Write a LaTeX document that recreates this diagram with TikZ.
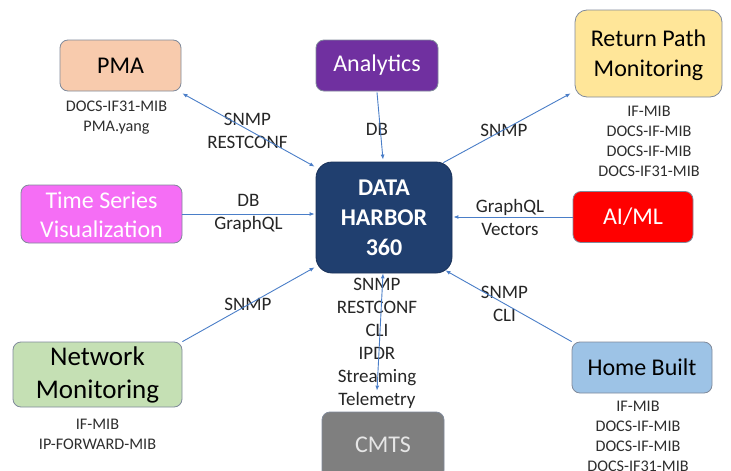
\documentclass[tikz,border=0pt]{standalone}
\usepackage{fontspec}
\setmainfont{Carlito}
\usetikzlibrary{arrows.meta,calc}
\definecolor{pmaC}{HTML}{F8CBAD}
\definecolor{anaC}{HTML}{7030A0}
\definecolor{rpC}{HTML}{FFE699}
\definecolor{tsvC}{RGB}{245,110,245}
\definecolor{aiC}{HTML}{FF0000}
\definecolor{dhC}{HTML}{203F6F}
\definecolor{nmC}{HTML}{C5E0B4}
\definecolor{hbC}{HTML}{9DC3E6}
\definecolor{cmC}{HTML}{7F7F7F}
\definecolor{cmText}{HTML}{E6E6E6}
\definecolor{boxline}{RGB}{128,138,155}
\definecolor{arrowC}{RGB}{74,126,200}
\definecolor{lblC}{HTML}{262626}
\definecolor{mibC}{HTML}{2E2E2E}
\begin{document}
\begin{tikzpicture}[x=1pt,y=-1pt,
  box/.style={draw=boxline, line width=0.8pt, rounded corners=8pt, align=center, inner sep=0pt,
    font=\fontsize{24}{29}\selectfont},
  boxtext/.style={inner sep=0pt, align=center, font=\fontsize{24}{30}\selectfont},
  lbl/.style={anchor=north, inner sep=0pt, align=center, text=lblC, font=\fontsize{19}{23}\selectfont},
  mib/.style={anchor=north, inner sep=0pt, align=center, text=mibC, font=\fontsize{16.2}{20}\selectfont},
  conn/.style={draw=arrowC, line width=0.9pt},
  tipend/.style={-{Latex[length=5pt,width=4pt]}},
  tipboth/.style={{Latex[length=5pt,width=4pt]}-{Latex[length=5pt,width=4pt]}}
]
\useasboundingbox[fill=white] (0,0) rectangle (731,471);

% boxes
\node[box, fill=pmaC, minimum width=121pt, minimum height=51pt] (pma) at (120.5,65.5) {PMA};
\node[box, fill=anaC, text=white, minimum width=122pt, minimum height=51pt] (ana) at (377,65.5) {Analytics};
\node[box, fill=rpC, rounded corners=12pt, minimum width=147pt, minimum height=87pt] (rp) at (648.5,53.5) {};
\node[boxtext] (rpt) at (648.5,55.5) {Return Path\\Monitoring};
\node[box, fill=tsvC, text=white, minimum width=161pt, minimum height=58pt] (tsv) at (101.5,214) {};
\node[boxtext, text=white, font=\fontsize{24}{29}\selectfont] (tsvt) at (101.5,215) {Time Series\\Visualization};
\node[box, fill=aiC, text=white, minimum width=120pt, minimum height=51pt] (ai) at (633,217) {AI/ML};
\node[box, draw=dhC!80!black, fill=dhC, text=white, rounded corners=16pt, minimum width=136pt, minimum height=111pt,
  font=\fontsize{24}{30}\selectfont\bfseries] (dh) at (384,217.5) {DATA\\HARBOR\\360};
\node[box, fill=nmC, minimum width=169pt, minimum height=65pt, font=\fontsize{27}{33}\selectfont] (nm) at (97.5,374.5) {Network\\Monitoring};
\node[box, fill=hbC, minimum width=140pt, minimum height=51pt] (hb) at (642,367.5) {Home Built};
\node[box, fill=cmC, minimum width=122pt, minimum height=66pt] (cm) at (383,445) {};
\node[boxtext, text=cmText] (cmt) at (383,445) {CMTS};

% MIB labels
\node[mib] (pmamib) at (116.5,100.5) {DOCS-IF31-MIB\\PMA.yang};
\node[mib] (rpmib) at (649,106) {IF-MIB\\DOCS-IF-MIB\\DOCS-IF-MIB\\DOCS-IF31-MIB};
\node[mib] (nmmib) at (97.5,419) {IF-MIB\\IP-FORWARD-MIB};
\node[mib] (hbmib) at (638,401) {IF-MIB\\DOCS-IF-MIB\\DOCS-IF-MIB\\DOCS-IF31-MIB};

% connector labels
\node[lbl] (l1) at (247.5,112.5) {SNMP\\RESTCONF};
\node[lbl] (l2) at (377,123.5) {DB};
\node[lbl] (l3) at (504,124) {SNMP};
\node[lbl] (l4) at (248.5,194) {DB\\GraphQL};
\node[lbl] (l5) at (510,199.5) {GraphQL\\Vectors};
\node[lbl] (l6) at (248,297.5) {SNMP};
\node[lbl] (l7) at (377,278) {SNMP\\RESTCONF\\CLI\\IPDR\\Streaming\\Telemetry};
\node[lbl] (l8) at (504.5,285.5) {SNMP\\CLI};

% connector end points
\coordinate (pmaE) at ($(pma.south east)+(1,2)$);
\coordinate (dhNW) at ($(dh.north west)+(-1,5)$);
\coordinate (dhNE) at ($(dh.north east)+(-9,1)$);
\coordinate (rpSW) at ($(rp.south west)+(-4,-4)$);
\coordinate (dhSW) at ($(dh.south west)+(-1,-6)$);
\coordinate (dhSE) at ($(dh.south east)+(-7,-3)$);
\coordinate (dhS) at ($(dh.south)+(-1,0)$);
\coordinate (cmN) at ($(cm.north)+(-6,-21)$);
\coordinate (anaS) at ($(ana.south)+(0,1)$);
\coordinate (dhN) at ($(dh.north)+(-1,-2)$);

% connectors
\draw[conn, tipboth] (pmaE) -- (dhNW);
\draw[conn, tipend] (anaS) -- (dhN);
\draw[conn, tipend] (dhNE) -- (rpSW);
\draw[conn, tipend] (tsv.east) -- ($(tsv.east -| dh.west)+(-1,0)$);
\draw[conn, tipend] (ai.west) -- ($(ai.west -| dh.east)+(1,0)$);
\draw[conn, tipend] (nm.north east) -- (dhSW);
\draw[conn, tipboth] (dhS) -- (cmN);
\draw[conn, tipend] (hb.north west) -- (dhSE);
\end{tikzpicture}
\end{document}
